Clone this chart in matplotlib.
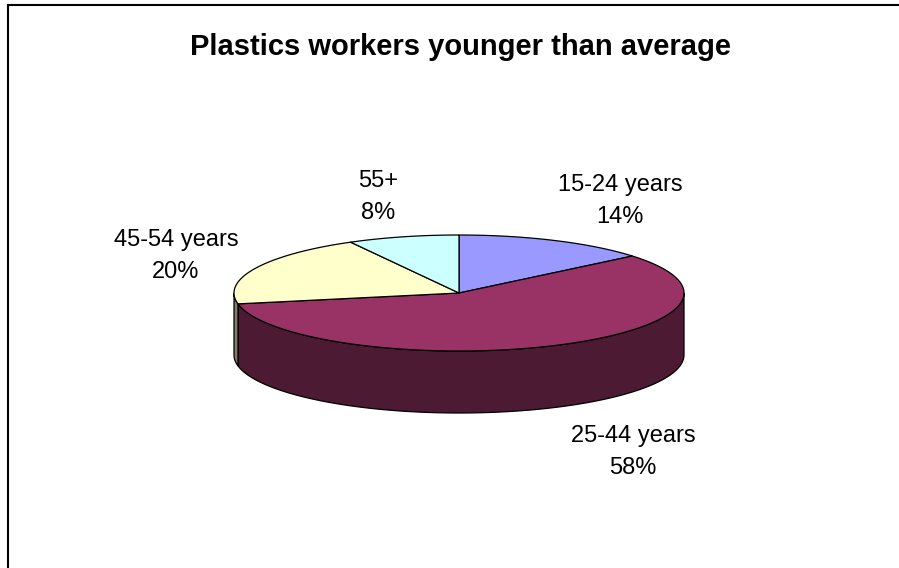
import numpy as np
import matplotlib
matplotlib.use("Agg")
import matplotlib.pyplot as plt
from matplotlib.patches import Polygon

plt.rcParams["font.family"] = ["Liberation Sans", "DejaVu Sans"]

# data
categories = ["15-24 years", "25-44 years", "45-54 years", "55+"]
shares = [14, 58, 20, 8]
top_colors = ["#9999FF", "#993366", "#FFFFCC", "#CCFFFF"]
side_colors = ["#4D4D80", "#4D1A33", "#808066", "#668080"]
title = "Plastics workers younger than average"

# layout (pixel units, y down)
W, H = 899, 568
CX, CY = 459, 293          # centre of top face
RA, RB = 225, 58           # ellipse semi-axes
DEPTH = 62                 # thickness of the disc
label_pos = [(620, 201), (633, 452), (176, 256), (378, 197)]


def ell(theta, drop=0.0):
    # theta in degrees, clockwise from 12 o'clock
    t = np.radians(theta)
    return CX + RA * np.sin(t), CY - RB * np.cos(t) + drop


fig = plt.figure(figsize=(W / 100, H / 100), dpi=100)
ax = fig.add_axes([0, 0, 1, 1])
ax.set_xlim(0, W)
ax.set_ylim(H, 0)
ax.axis("off")

# chart frame (only left and top visible in the source)
ax.plot([8, 8], [H, 5], color="black", lw=1.5)
ax.plot([8, W], [5, 5], color="black", lw=1.5)

total = float(sum(shares))
edges = np.concatenate([[0], np.cumsum(shares)]) / total * 360.0

# side walls: only the front half (90..270 deg) is visible
for i in range(len(shares)):
    a0, a1 = max(edges[i], 90.0), min(edges[i + 1], 270.0)
    if a1 <= a0:
        continue
    th = np.linspace(a0, a1, 120)
    xs, ys = ell(th)
    xb, yb = ell(th[::-1], DEPTH)
    pts = np.column_stack([np.concatenate([xs, xb]), np.concatenate([ys, yb])])
    ax.add_patch(Polygon(pts, closed=True, fc=side_colors[i], ec="black", lw=0.9))

# top faces
for i in range(len(shares)):
    th = np.linspace(edges[i], edges[i + 1], 200)
    xs, ys = ell(th)
    pts = np.column_stack([np.concatenate([[CX], xs]), np.concatenate([[CY], ys])])
    ax.add_patch(Polygon(pts, closed=True, fc=top_colors[i], ec="black", lw=0.9))

# labels
for (lx, ly), cat, v in zip(label_pos, categories, shares):
    ax.text(lx, ly, f"{cat}\n{v}%", ha="center", va="center", fontsize=17,
            linespacing=1.6)

ax.text(460, 47, title, ha="center", va="center", fontsize=21, fontweight="bold")

fig.savefig("out.png", dpi=100)
